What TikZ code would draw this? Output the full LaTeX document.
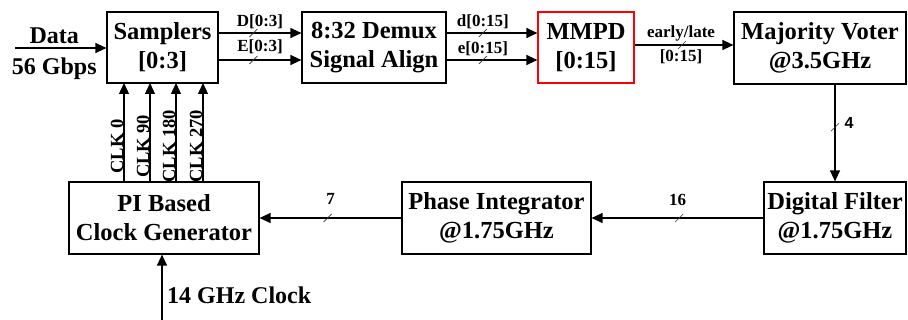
\documentclass[tikz,border=0pt]{standalone}
\usepackage{fontspec}
\setmainfont{Liberation Serif}
\newfontfamily\lsans{Liberation Sans}
\usetikzlibrary{arrows.meta}

\begin{document}
\begin{tikzpicture}[x=1pt,y=-1pt,
  blk/.style={draw,line width=1.2pt,inner sep=0pt,align=center,font=\bfseries\fontsize{24.5}{29}\selectfont},
  sig/.style={line width=1.3pt,-{Triangle[length=11pt,width=10pt]}},
  lbl/.style={font=\bfseries\fontsize{17}{18}\selectfont,inner sep=1pt},
  big/.style={font=\bfseries\fontsize{24}{28}\selectfont,inner sep=1pt},
  clk/.style={font=\bfseries\fontsize{18.5}{20}\selectfont,inner sep=0pt,rotate=90,anchor=south},
  slash/.style={line width=0.6pt,black!80}]
  \useasboundingbox (0,0) rectangle (908,320);
  % top row
  \node[blk,minimum width=111pt,minimum height=71pt] (samp) at (162.5,47.5) {Samplers\\{}[0:3]};
  \node[blk,minimum width=144pt,minimum height=71pt] (demux) at (374,47.5) {8:32 Demux\\Signal Align};
  \node[blk,draw=red,minimum width=96pt,minimum height=71pt] (mmpd) at (586,47.5) {MMPD\\{}[0:15]};
  \node[blk,minimum width=172pt,minimum height=72pt] (mv) at (820,48) {Majority Voter\\@3.5GHz};
  % bottom row
  \node[blk,minimum width=142pt,minimum height=72pt] (df) at (835,218) {Digital Filter\\@1.75GHz};
  \node[blk,minimum width=189pt,minimum height=72pt] (pint) at (496.5,218) {Phase Integrator\\@1.75GHz};
  \node[blk,minimum width=190pt,minimum height=72pt] (pigen) at (164,218) {PI Based\\Clock Generator};
  \coordinate (din) at (15,48);
  \coordinate (clkin) at (162,320);
  % data path
  \draw[sig] (din) -- node[big,pos=.43,above=3pt] {Data} node[big,pos=.43,below=8pt] {56 Gbps} (din -| samp.west);
  \draw[sig] (samp.east |- 0,33) -- node[lbl,above=3pt] {D[0:3]} coordinate[pos=.42] (sD) (demux.west |- 0,33);
  \draw[sig] (samp.east |- 0,60) -- node[lbl,above=5pt] {E[0:3]} coordinate[pos=.42] (sE) (demux.west |- 0,60);
  \draw[sig] (demux.east |- 0,33) -- node[lbl,pos=.4,above=3pt] {d[0:15]} coordinate[pos=.4] (sd) (mmpd.west |- 0,33);
  \draw[sig] (demux.east |- 0,60) -- node[lbl,pos=.4,above=3pt] {e[0:15]} coordinate[pos=.4] (se) (mmpd.west |- 0,60);
  \draw[sig] (mmpd.east |- 0,45) -- node[lbl,pos=.47,above=2pt] {early/late} node[lbl,pos=.47,below=3pt] {[0:15]} coordinate[pos=.48] (sel) (mv.west |- 0,45);
  % feedback loop
  \draw[sig] (df.north |- mv.south) -- node[pos=.4,right=8pt,inner sep=1pt,font=\lsans\bfseries\fontsize{16}{18}\selectfont] {4} coordinate[pos=.44] (s4) (df.north);
  \draw[sig] (df.west) -- node[lbl,above=11pt] {16} coordinate[pos=.49] (s16) (pint.east);
  \draw[sig] (pint.west) -- node[lbl,above=12pt] {7} coordinate[pos=.52] (s7) (pigen.east);
  % bus width marks
  \foreach \s in {sD,sE,sd,se,sel,s4,s16,s7}
    \draw[slash] (\s) ++(-4,4) -- ++(8,-8);
  % clocks
  \foreach \x/\ph in {124/0,150/90,176/180,203/270}
    \draw[sig] (\x,182) -- node[clk,pos=.39,xshift=-3pt] {CLK \ph} (\x,83);
  \draw[sig] (clkin) -- (clkin |- pigen.south);
  \node[big,anchor=base west] (clklbl) at (166,304) {14 GHz Clock};
\end{tikzpicture}
\end{document}
